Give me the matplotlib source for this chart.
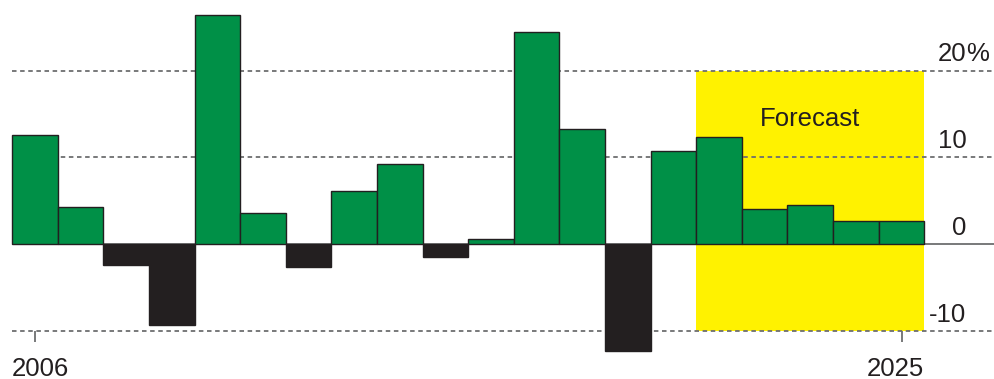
import numpy as np
import matplotlib.pyplot as plt

years = list(range(2006, 2026))
growth = [12.6, 4.3, -2.4, -9.3, 26.4, 3.6, -2.7, 6.1, 9.2, -1.5,
          0.6, 24.5, 13.3, -12.3, 10.7, 12.3, 4.0, 4.5, 2.7, 2.7]
grid_levels = [20, 10, -10]
tick_labels = ["20%", "10", "0", "-10"]
tick_values = [20, 10, 0, -10]
forecast_start = 2021
forecast_end = 2025

GREEN = "#009047"
BLACK = "#231f20"
YELLOW = "#fff200"

plt.rcParams["font.family"] = ["Liberation Sans", "DejaVu Sans"]

fig = plt.figure(figsize=(9.95, 3.79), dpi=100)
ax = fig.add_axes([0, 0, 1, 1])
ax.set_xlim(2005.232, 2027.05)
ax.set_ylim(-15.57, 28.14)
ax.axis("off")

# forecast box
ax.fill_between([forecast_start - 0.5, forecast_end + 0.5], -10, 20,
                color=YELLOW, lw=0, zorder=0)

# gridlines
for lv in grid_levels:
    ax.hlines(lv, years[0] - 0.5, 2027.05, colors="#6d6e70", lw=1.3,
              linestyles=(0, (2.5, 2)), zorder=1)
ax.hlines(0, years[0] - 0.5, 2027.05, colors="#6d6e70", lw=1.3, zorder=1)

colors = [GREEN if v >= 0 else BLACK for v in growth]
ax.bar(years, growth, width=1.0, color=colors, edgecolor=BLACK, lw=1.0, zorder=2)

# x ticks for first and last year
ax.vlines([years[0], years[-1]], -11.3, -10, colors="#6d6e70", lw=1.3, zorder=1)
ax.text(years[0] - 0.5, -15.2, str(years[0]), fontsize=18.5, ha="left",
        va="baseline", color=BLACK)
ax.text(years[-1] + 0.5, -15.2, str(years[-1]), fontsize=18.5, ha="right",
        va="baseline", color=BLACK)

# y labels
for lab, v in zip(tick_labels, tick_values):
    x = 2026.42
    if lab.endswith("%"):
        ax.text(x, v + 1.05, lab[:-1], fontsize=18.5, ha="right", va="baseline",
                color=BLACK)
        ax.text(x, v + 1.05, "%", fontsize=18.5, ha="left", va="baseline",
                color=BLACK)
    else:
        ax.text(x, v + 1.05, lab, fontsize=18.5, ha="right", va="baseline",
                color=BLACK)

ax.text(2023.0, 13.6, "Forecast", fontsize=18.5, ha="center", va="baseline",
        color=BLACK)

fig.savefig("out.png", dpi=100)
